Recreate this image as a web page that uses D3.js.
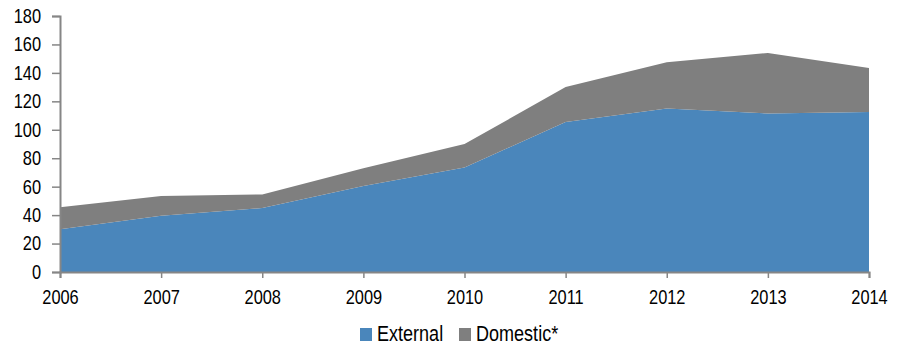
<!DOCTYPE html>
<html>
<head>
<meta charset="utf-8">
<script src="https://cdn.jsdelivr.net/npm/d3@7"></script>
<style>
  html, body { margin: 0; padding: 0; background: #fff; }
  svg { display: block; font-family: "Liberation Sans", Arial, sans-serif; }
</style>
</head>
<body>
<svg id="chart" width="901" height="346"></svg>
<script>
// Annual values, stacked: external on the bottom, domestic on top
const years = [2006, 2007, 2008, 2009, 2010, 2011, 2012, 2013, 2014];
const external = [30, 39.5, 45, 60.5, 73.5, 105.5, 115, 111.5, 112.5];
const domestic = [15.5, 14, 9.5, 12.5, 16.5, 24.5, 32.5, 42.5, 31];
const yTicks = [0, 20, 40, 60, 80, 100, 120, 140, 160, 180];
const seriesNames = ["External", "Domestic*"];
const seriesColors = ["#4a86bb", "#7f7f7f"];

const svg = d3.select("#chart");
const margin = { top: 16, right: 32, bottom: 74, left: 60 };
const W = 901, H = 346;
const fontFamily = '"Liberation Sans", Arial, sans-serif';
const narrowK = 0.82; // horizontal squeeze for a narrow-looking face

// Condense text horizontally around its own anchor point
function narrow(sel) {
  sel.each(function () {
    const t = d3.select(this);
    const x0 = +t.attr("x") || 0;
    t.attr("x", 0).attr("transform", `translate(${x0},0) scale(${narrowK},1)`);
  });
}

const x = d3.scaleLinear()
  .domain(d3.extent(years))
  .range([margin.left, W - margin.right]);
const y = d3.scaleLinear()
  .domain([0, 180])
  .range([H - margin.bottom, margin.top]);

const rows = years.map((yr, i) => ({ year: yr, External: external[i], "Domestic*": domestic[i] }));
const stacked = d3.stack().keys(seriesNames)(rows);

const area = d3.area()
  .x(d => x(d.data.year))
  .y0(d => y(d[0]))
  .y1(d => y(d[1]));

svg.append("g")
  .selectAll("path")
  .data(stacked)
  .join("path")
  .attr("d", area)
  .attr("fill", (d, i) => seriesColors[i]);

const axisColor = "#868686";
const fontSize = "20px";

// y axis
const yAxis = svg.append("g")
  .attr("transform", `translate(${margin.left},0)`)
  .call(d3.axisLeft(y).tickValues(yTicks).tickSize(8).tickPadding(11));
yAxis.select(".domain").attr("stroke", axisColor).attr("stroke-width", 2);
yAxis.selectAll(".tick line").attr("stroke", axisColor).attr("stroke-width", 1.5);
yAxis.selectAll(".tick text").attr("fill", "#000").style("font-size", fontSize)
  .style("font-family", fontFamily).call(narrow);

// x axis
const xAxis = svg.append("g")
  .attr("transform", `translate(0,${H - margin.bottom})`)
  .call(d3.axisBottom(x).tickValues(years).tickFormat(d3.format("d")).tickSize(6).tickPadding(12));
xAxis.select(".domain").attr("stroke", axisColor).attr("stroke-width", 2);
xAxis.selectAll(".tick line").attr("stroke", axisColor).attr("stroke-width", 1.5);
xAxis.selectAll(".tick text").attr("fill", "#000").style("font-size", fontSize)
  .style("font-family", fontFamily).call(narrow);

// legend
const legendItems = [
  { name: seriesNames[0], color: seriesColors[0], x: 360 },
  { name: seriesNames[1], color: seriesColors[1], x: 459 }
];
const legend = svg.append("g");
legendItems.forEach(it => {
  legend.append("rect")
    .attr("x", it.x).attr("y", 328)
    .attr("width", 12).attr("height", 13)
    .attr("fill", it.color);
  legend.append("text")
    .attr("x", it.x + 17).attr("y", 341)
    .style("font-size", "22px")
    .style("font-family", fontFamily)
    .attr("fill", "#000")
    .text(it.name)
    .call(narrow);
});
</script>
</body>
</html>
